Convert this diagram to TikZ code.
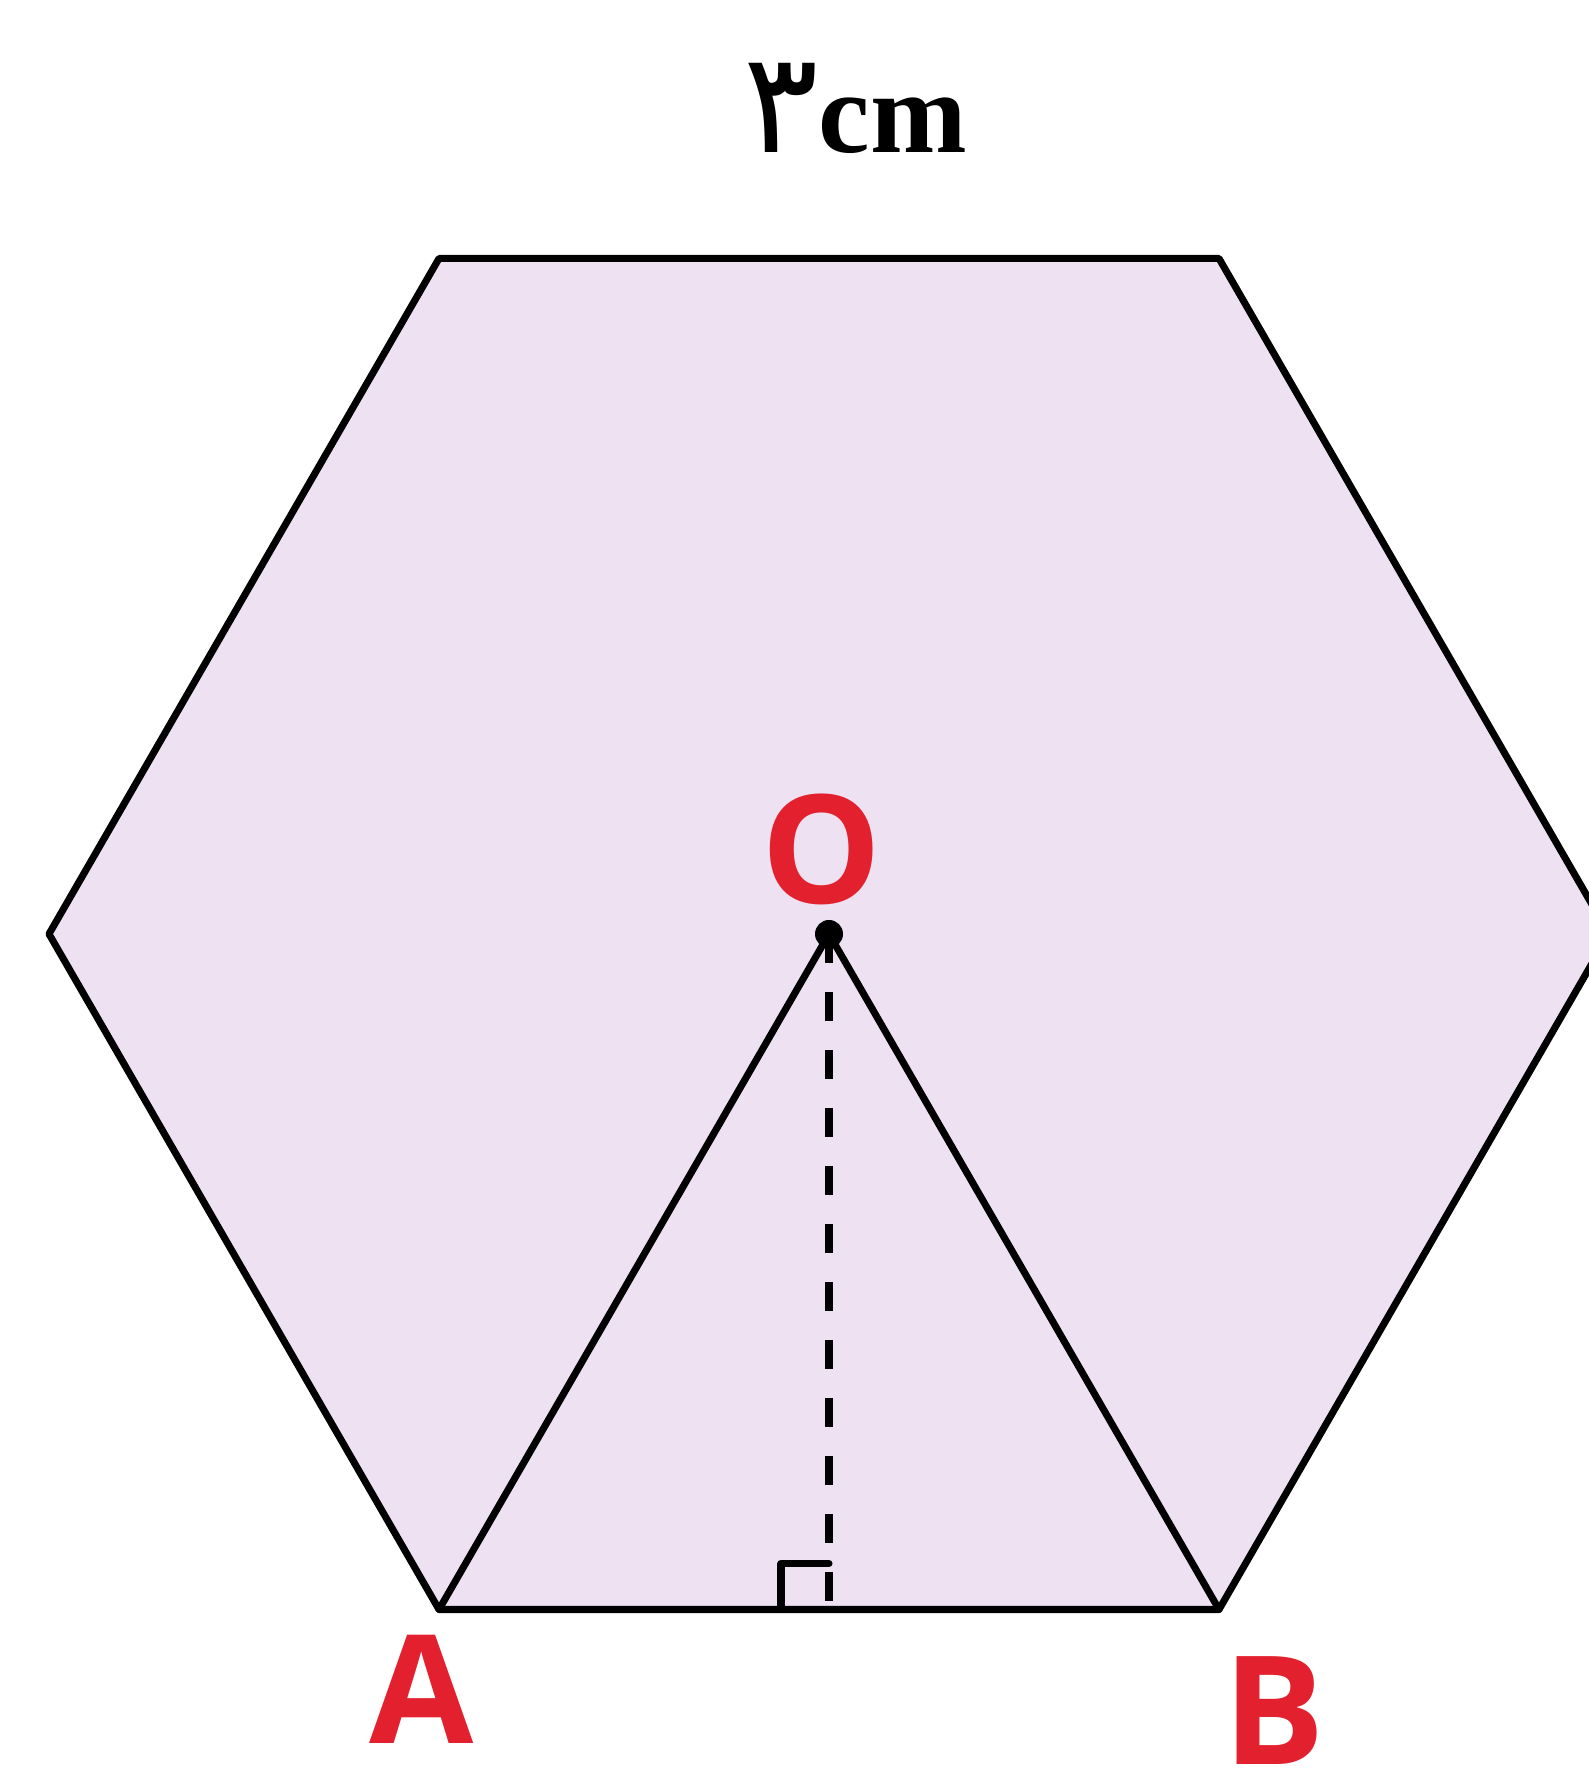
\documentclass[tikz,border=0pt]{standalone}
\usepackage{fontspec}
\setmainfont{Liberation Serif}
\newfontfamily\labelfont{Open Sans}
\newfontfamily\arabicfont[Script=Arabic]{DejaVu Sans}
\usetikzlibrary{calc}
\definecolor{hexfill}{RGB}{238,226,242}
\definecolor{labelred}{RGB}{226,32,46}

\begin{document}
\begin{tikzpicture}[line cap=round, line join=round,
    edge/.style={line width=2pt},
    ptlabel/.style={labelred, font=\labelfont\bfseries\fontsize{43}{43}\selectfont}]
            \useasboundingbox (0,0) rectangle (15.89,17.73);
            \clip (0,0) rectangle (15.89,17.73);

            \coordinate (O) at (8.29,8.39);
            \coordinate (A) at ($(O)+(240:7.8)$);
            \coordinate (B) at ($(O)+(300:7.8)$);
            \coordinate (C) at ($(O)+(0:7.8)$);
            \coordinate (D) at ($(O)+(60:7.8)$);
            \coordinate (E) at ($(O)+(120:7.8)$);
            \coordinate (F) at ($(O)+(180:7.8)$);
            \coordinate (H) at ($(A)!0.5!(B)$);

            \draw[edge, fill=hexfill] (A) -- (B) -- (C) -- (D) -- (E) -- (F) -- cycle;
            \draw[edge] (A) -- (O) -- (B);
            \draw[edge, line cap=butt, dash pattern=on 0.29cm off 0.29cm] (O) -- (H);
            \draw[edge] ($(H)+(-0.48,0)$) -- ($(H)+(-0.48,0.46)$) -- ($(H)+(0,0.46)$);
            \fill (O) circle (0.14);

            \node[ptlabel] (labO) at (8.22,9.24) {O};
            \node[ptlabel] (labA) at (4.22,0.84) {A};
            \node[ptlabel] (labB) at (12.74,0.62) {B};
            \node[anchor=base, font=\bfseries\fontsize{33}{33}\selectfont] (size) at (8.55,16.20) {{\arabicfont\mdseries\fontsize{40}{40}\selectfont ۳}cm};

        \end{tikzpicture}
\end{document}
